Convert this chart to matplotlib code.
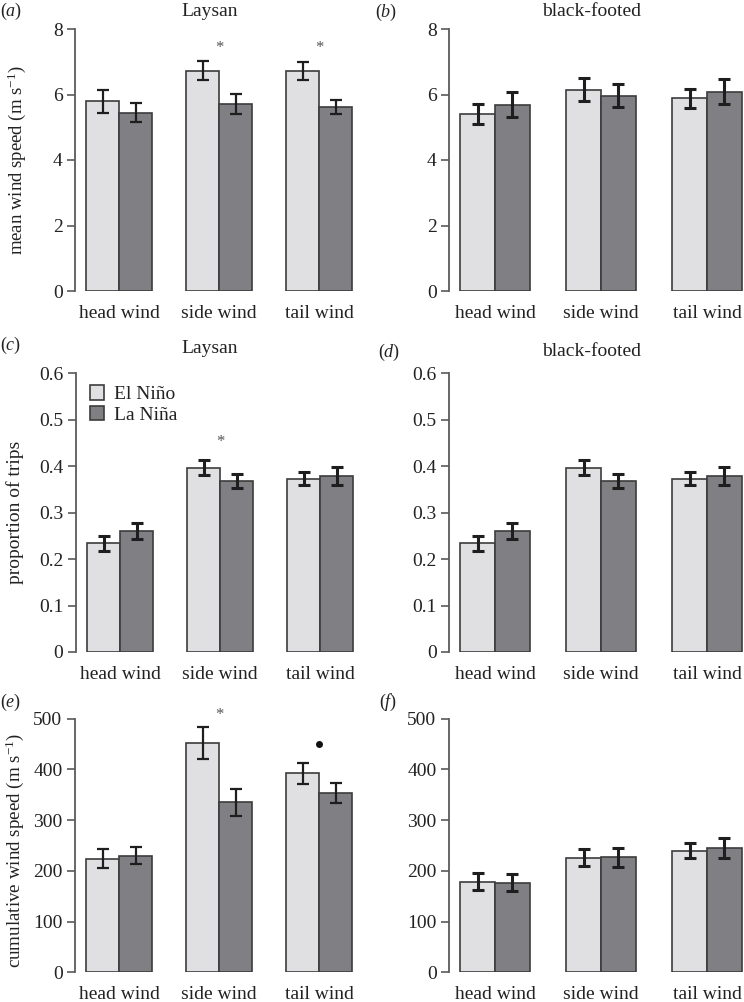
import matplotlib
matplotlib.use("Agg")
import matplotlib.pyplot as plt
import numpy as np

plt.rcParams['font.family'] = ['Liberation Serif', 'DejaVu Serif']
plt.rcParams['mathtext.fontset'] = 'custom'
plt.rcParams['mathtext.rm'] = 'Liberation Serif'
plt.rcParams['mathtext.it'] = 'Liberation Serif:italic'

categories = ['head wind', 'side wind', 'tail wind']
series = ['El Niño', 'La Niña']

# panel (a) Laysan mean wind speed
a_el = [5.79, 6.72, 6.71]
a_el_err = [0.34, 0.29, 0.27]
a_la = [5.45, 5.71, 5.62]
a_la_err = [0.30, 0.30, 0.22]
# panel (b) black-footed mean wind speed
b_el = [5.40, 6.14, 5.88]
b_el_err = [0.30, 0.35, 0.30]
b_la = [5.69, 5.96, 6.09]
b_la_err = [0.38, 0.35, 0.37]
# panel (c) Laysan proportion of trips
c_el = [0.234, 0.397, 0.373]
c_el_err = [0.016, 0.016, 0.0145]
c_la = [0.261, 0.368, 0.379]
c_la_err = [0.017, 0.015, 0.019]
# panel (d) black-footed proportion of trips
d_el = [0.234, 0.397, 0.373]
d_el_err = [0.016, 0.016, 0.0145]
d_la = [0.261, 0.368, 0.379]
d_la_err = [0.017, 0.015, 0.019]
# panel (e) Laysan cumulative wind speed
e_el = [224, 452, 392]
e_el_err = [19, 32, 20]
e_la = [230, 335, 354]
e_la_err = [17, 27, 20]
# panel (f) black-footed cumulative wind speed
f_el = [179, 226, 240]
f_el_err = [17, 17, 15]
f_la = [177, 227, 245]
f_la_err = [16, 19, 19]

W, H = 744, 1002
fig = plt.figure(figsize=(W / 100, H / 100), dpi=100)

LIGHT = '#e0e0e2'
DARK = '#808084'
EDGE = '#3c3c3c'
SPINE = '#5a5a5a'

def make_ax(x0, x1, ytop, ybot):
    return fig.add_axes([x0 / W, 1 - ybot / H, (x1 - x0) / W, (ybot - ytop) / H])

def draw(ax, el, el_err, la, la_err, ylim, yticks, yticklabels, xlim, elw):
    x = np.arange(len(categories))
    bw = 0.33
    ax.bar(x - bw / 2, el, bw, color=LIGHT, edgecolor=EDGE, linewidth=1.2, zorder=2)
    ax.bar(x + bw / 2, la, bw, color=DARK, edgecolor=EDGE, linewidth=1.2, zorder=2)
    ax.errorbar(x - bw / 2, el, yerr=el_err, fmt='none', ecolor='#1e1e1e',
                elinewidth=elw, capsize=4, capthick=elw, zorder=3)
    ax.errorbar(x + bw / 2, la, yerr=la_err, fmt='none', ecolor='#1e1e1e',
                elinewidth=elw, capsize=4, capthick=elw, zorder=3)
    ax.set_xlim(*xlim)
    ax.set_ylim(*ylim)
    ax.set_yticks(yticks)
    ax.set_yticklabels(yticklabels)
    ax.set_xticks(x)
    ax.set_xticklabels(categories)
    for s in ['top', 'right', 'bottom']:
        ax.spines[s].set_visible(False)
    ax.spines['left'].set_color(SPINE)
    ax.spines['left'].set_linewidth(1.3)
    ax.spines['left'].set_bounds(ylim[0], yticks[-1])
    ax.tick_params(axis='y', length=6, width=1.2, color=SPINE, pad=3,
                   labelsize=14, labelcolor='#222222', direction='out')
    ax.tick_params(axis='x', length=0, pad=10, labelsize=14, labelcolor='#222222')
    ax.patch.set_alpha(0)

xl_left = (-0.44, 2.44)
xl_right = (-0.434, 2.349)
rows = [(29, 291), (373.3, 652), (718.7, 972.3)]

ax_a = make_ax(75, 363, *rows[0])
ax_b = make_ax(449, 744, *rows[0])
ax_c = make_ax(76, 364, *rows[1])
ax_d = make_ax(449, 744, *rows[1])
ax_e = make_ax(75, 363, *rows[2])
ax_f = make_ax(449, 744, *rows[2])

t8 = [0, 2, 4, 6, 8]
t6 = [0, 0.1, 0.2, 0.3, 0.4, 0.5, 0.6]
t6l = ['0', '0.1', '0.2', '0.3', '0.4', '0.5', '0.6']
t5 = [0, 100, 200, 300, 400, 500]

draw(ax_a, a_el, a_el_err, a_la, a_la_err, (0, 8), t8, [str(v) for v in t8], xl_left, 1.6)
draw(ax_b, b_el, b_el_err, b_la, b_la_err, (0, 8), t8, [str(v) for v in t8], xl_right, 2.2)
draw(ax_c, c_el, c_el_err, c_la, c_la_err, (0, 0.6), t6, t6l, xl_left, 2.2)
draw(ax_d, d_el, d_el_err, d_la, d_la_err, (0, 0.6), t6, t6l, xl_right, 2.2)
draw(ax_e, e_el, e_el_err, e_la, e_la_err, (0, 500), t5, [str(v) for v in t5], xl_left, 1.6)
draw(ax_f, f_el, f_el_err, f_la, f_la_err, (0, 500), t5, [str(v) for v in t5], xl_right, 2.2)

# y labels
ylab_kw = dict(color='#222222', rotation=90, ha='center', va='center')
fig.text(17 / W, 1 - 160 / H, r'mean wind speed (m s$^{-1}$)', fontsize=13.5, **ylab_kw)
fig.text(15 / W, 1 - 512 / H, 'proportion of trips', fontsize=14, **ylab_kw)
fig.text(15 / W, 1 - 850 / H, r'cumulative wind speed (m s$^{-1}$)', fontsize=13.7, **ylab_kw)

# titles
tit_kw = dict(fontsize=14, color='#222222', ha='center', va='center')
fig.text(209.5 / W, 1 - 12 / H, 'Laysan', **tit_kw)
fig.text(592 / W, 1 - 12 / H, 'black-footed', **tit_kw)
fig.text(209.5 / W, 1 - 348 / H, 'Laysan', **tit_kw)
fig.text(592 / W, 1 - 352 / H, 'black-footed', **tit_kw)

# panel letters
lab_kw = dict(fontsize=13, color='#222222', ha='left', va='center')
fig.text(0 / W, 1 - 11 / H, r'($a$)', **lab_kw)
fig.text(375 / W, 1 - 12 / H, r'($b$)', **lab_kw)
fig.text(0 / W, 1 - 345 / H, r'($c$)', **lab_kw)
fig.text(378 / W, 1 - 352 / H, r'($d$)', **lab_kw)
fig.text(0 / W, 1 - 702 / H, r'($e$)', **lab_kw)
fig.text(379 / W, 1 - 702 / H, r'($f$)', **lab_kw)

# significance markers
star_kw = dict(fontsize=12, color='#555555', ha='center', va='center')
ax_a.text(1, 7.42, '*', **star_kw)
ax_a.text(2, 7.42, '*', **star_kw)
ax_c.text(1, 0.452, '*', **star_kw)
ax_e.text(1, 508, '*', **star_kw)
ax_e.plot([2], [451], 'o', color='#111111', markersize=4, clip_on=False)

# legend in panel (c)
from matplotlib.patches import Patch
handles = [Patch(facecolor=LIGHT, edgecolor=EDGE, linewidth=1.2, label=series[0]),
           Patch(facecolor=DARK, edgecolor=EDGE, linewidth=1.2, label=series[1])]
leg = ax_c.legend(handles=handles, loc='upper left', bbox_to_anchor=(0.02, 0.985),
                  frameon=False, fontsize=14, handlelength=0.75, handleheight=0.75,
                  handletextpad=0.5, labelspacing=0.15, borderaxespad=0)
for t in leg.get_texts():
    t.set_color('#222222')

fig.savefig('out.png', dpi=100)
